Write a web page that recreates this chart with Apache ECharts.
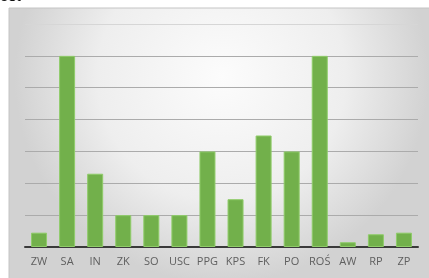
<!DOCTYPE html>
<html>
<head>
<meta charset="utf-8">
<script src="https://cdn.jsdelivr.net/npm/echarts@6/dist/echarts.min.js"></script>
<style>
  html, body { margin: 0; padding: 0; background: #fff; }
  #chart { width: 429px; height: 278px; }
</style>
</head>
<body>
<div id="chart"></div>
<script>
// Category labels and bar values (gridline = 1 unit)
var categories = ['ZW', 'SA', 'IN', 'ZK', 'SO', 'USC', 'PPG', 'KPS', 'FK', 'PO', 'ROŚ', 'AW', 'RP', 'ZP'];
var values = [0.45, 6.0, 2.3, 1.0, 1.0, 1.0, 3.0, 1.5, 3.5, 3.0, 6.0, 0.15, 0.4, 0.45];

var chart = echarts.init(document.getElementById('chart'));

chart.setOption({
    animation: false,
    graphic: [
        {
            // chart area background with soft radial shading
            type: 'rect',
            z: -10,
            shape: { x: 9, y: 8, width: 425, height: 275 },
            style: {
                fill: new echarts.graphic.RadialGradient(0.5, 0.25, 0.75, [
                    { offset: 0, color: '#fcfcfc' },
                    { offset: 0.6, color: '#eeeeee' },
                    { offset: 1, color: '#d2d2d2' }
                ]),
                stroke: '#c4c4c4',
                lineWidth: 1
            }
        },
        {
            // cut-off title remnant at the top edge
            type: 'text',
            left: 0,
            top: -10,
            style: {
                text: 'ost',
                font: 'bold 14px "Liberation Sans"',
                fill: '#111'
            }
        }
    ],
    grid: {
        left: 25,
        right: 11,
        top: 24,
        bottom: 31
    },
    xAxis: {
        type: 'category',
        data: categories,
        axisLine: { lineStyle: { color: '#3a3a3a', width: 2 } },
        axisTick: { show: false },
        axisLabel: {
            color: '#5f5f5f',
            fontFamily: 'Open Sans',
            fontSize: 11,
            margin: 9,
            interval: 0
        }
    },
    yAxis: {
        type: 'value',
        min: 0,
        max: 7,
        interval: 1,
        axisLabel: { show: false },
        axisLine: { show: false },
        axisTick: { show: false },
        splitLine: {
            lineStyle: {
                color: ['#ababab', '#ababab', '#ababab', '#ababab', '#ababab', '#ababab', '#ababab', '#d6d6d6'],
                width: 1
            }
        }
    },
    series: [
        {
            type: 'bar',
            data: values,
            barWidth: '57%',
            itemStyle: {
                color: '#72b04b',
                borderColor: '#8fcc69',
                borderWidth: 1
            }
        }
    ]
});
</script>
</body>
</html>
